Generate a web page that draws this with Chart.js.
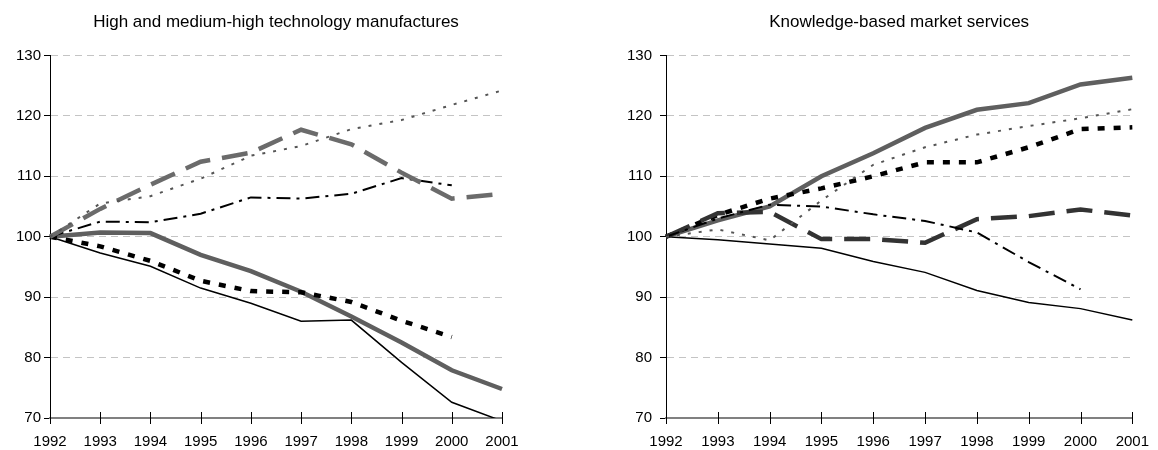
<!DOCTYPE html>
<html>
<head>
<meta charset="utf-8">
<script src="https://cdn.jsdelivr.net/npm/chart.js@4.4.1/dist/chart.umd.min.js"></script>
<style>
  body { margin: 0; background: #fff; overflow: hidden; }
  .panel { position: absolute; top: 0; height: 450px; }
  #leftBox { left: 0; width: 560px; }
  #rightBox { left: 616px; width: 542px; }
</style>
</head>
<body>
<div class="panel" id="leftBox"><canvas id="leftChart"></canvas></div>
<div class="panel" id="rightBox"><canvas id="rightChart"></canvas></div>
<script>
const years = ['1992', '1993', '1994', '1995', '1996', '1997', '1998', '1999', '2000', '2001'];
const yTicks = [70, 80, 90, 100, 110, 120, 130];

// High and medium-high technology manufactures
const manThinSolid = [100, 97.3, 95.1, 91.5, 89.0, 86.0, 86.2, 79.2, 72.6, 69.5];
const manThickSolid = [100, 100.7, 100.6, 97.0, 94.3, 90.9, 86.8, 82.5, 77.9, 74.8];
const manShortDash = [100, 98.4, 96.0, 92.7, 91.0, 90.8, 89.2, 86.1, 83.4, null];
const manLongDash = [100, 104.6, 108.6, 112.4, 113.9, 117.7, 115.3, 110.6, 106.3, 107.1];
const manDotted = [100, 105.5, 106.7, 109.6, 113.4, 115.0, 117.8, 119.3, 121.8, 124.2];
const manDashDot = [100, 102.5, 102.4, 103.8, 106.5, 106.3, 107.1, 109.7, 108.5, null];

// Knowledge-based market services
const svcThickSolid = [100, 102.7, 105.0, 110.0, 113.8, 118.0, 121.0, 122.1, 125.2, 126.3];
const svcDotted = [100, 101.2, 99.4, 106.0, 111.9, 114.8, 116.9, 118.3, 119.6, 121.1];
const svcShortDash = [100, 103.6, 106.3, 108.0, 110.0, 112.3, 112.3, 114.8, 117.8, 118.1];
const svcLongDash = [100, 103.9, 104.1, 99.6, 99.6, 99.0, 102.9, 103.4, 104.5, 103.5];
const svcDashDot = [100, 103.0, 105.3, 105.0, 103.7, 102.6, 100.7, 95.8, 91.3, null];
const svcThinSolid = [100, 99.5, 98.8, 98.1, 95.9, 94.1, 91.1, 89.1, 88.1, 86.2];

const FONT = 'Arial, "Liberation Sans", sans-serif';

const lineSet = (data, color, width, dash) => ({
  data: data,
  borderColor: color,
  backgroundColor: color,
  borderWidth: width,
  borderDash: dash,
  pointRadius: 0,
  tension: 0,
  fill: false,
  spanGaps: false
});

// tick marks on the x axis cross the axis line
const crossTicks = {
  id: 'crossTicks',
  afterDraw(chart) {
    const {ctx, chartArea} = chart;
    const x = chart.scales.x;
    ctx.save();
    ctx.strokeStyle = '#000';
    ctx.lineWidth = 1;
    x.ticks.forEach((t, i) => {
      const px = Math.round(x.getPixelForTick(i)) + 0.5;
      ctx.beginPath();
      ctx.moveTo(px, chartArea.bottom - 6);
      ctx.lineTo(px, chartArea.bottom + 6);
      ctx.stroke();
    });
    ctx.restore();
  }
};

const makeChart = (id, title, datasets, rightPad, labelPad) => {
  return new Chart(document.getElementById(id), {
    type: 'line',
    data: { labels: years, datasets: datasets },
    plugins: [crossTicks],
    options: {
      responsive: true,
      maintainAspectRatio: false,
      animation: false,
      layout: { padding: { left: 0, right: rightPad, top: 0, bottom: 0 } },
      plugins: {
        legend: { display: false },
        tooltip: { enabled: false },
        title: {
          display: true,
          text: title,
          fullSize: false,
          color: '#000',
          font: { family: FONT, size: 17, weight: 'normal' },
          padding: { top: 12, bottom: 23 }
        }
      },
      scales: {
        x: {
          offset: false,
          afterFit: (scale) => { scale.height = 32; },
          grid: { display: true, drawOnChartArea: false, color: 'rgba(0,0,0,0)', tickColor: 'rgba(0,0,0,0)', tickLength: 6 },
          border: { display: true, color: '#808080', width: 2 },
          ticks: { color: '#000', font: { family: FONT, size: 15 }, padding: 9, maxRotation: 0, autoSkip: false }
        },
        y: {
          min: yTicks[0],
          max: yTicks[yTicks.length - 1],
          afterFit: (scale) => { scale.width = 50; },
          afterBuildTicks: (scale) => { scale.ticks = yTicks.map(v => ({ value: v })); },
          grid: {
            color: (c) => c.tick && c.tick.value === yTicks[0] ? 'rgba(0,0,0,0)' : '#c4c4c4',
            lineWidth: 1,
            tickColor: '#000',
            tickLength: 6,
            tickBorderDash: []
          },
          border: { display: true, color: '#000', width: 1, dash: [7, 5] },
          ticks: { color: '#000', font: { family: FONT, size: 15 }, padding: labelPad }
        }
      }
    }
  });
};

makeChart('leftChart', 'High and medium-high technology manufactures', [
  lineSet(manDotted, '#555555', 2, [3, 8]),
  lineSet(manLongDash, '#6b6b6b', 4.5, [26, 12]),
  lineSet(manDashDot, '#000000', 2, [14, 6, 3, 6]),
  lineSet(manShortDash, '#000000', 4.5, [7, 9]),
  lineSet(manThickSolid, '#5f5f5f', 4.5, []),
  lineSet(manThinSolid, '#000000', 1.5, [])
], 58, 3);

makeChart('rightChart', 'Knowledge-based market services', [
  lineSet(svcDotted, '#555555', 2, [3, 8]),
  lineSet(svcDashDot, '#000000', 2, [14, 6, 3, 6]),
  lineSet(svcLongDash, '#333333', 4.5, [26, 12]),
  lineSet(svcShortDash, '#000000', 4.5, [7, 9]),
  lineSet(svcThickSolid, '#5f5f5f', 4.5, []),
  lineSet(svcThinSolid, '#000000', 1.5, [])
], 18, 8);
</script>
</body>
</html>
